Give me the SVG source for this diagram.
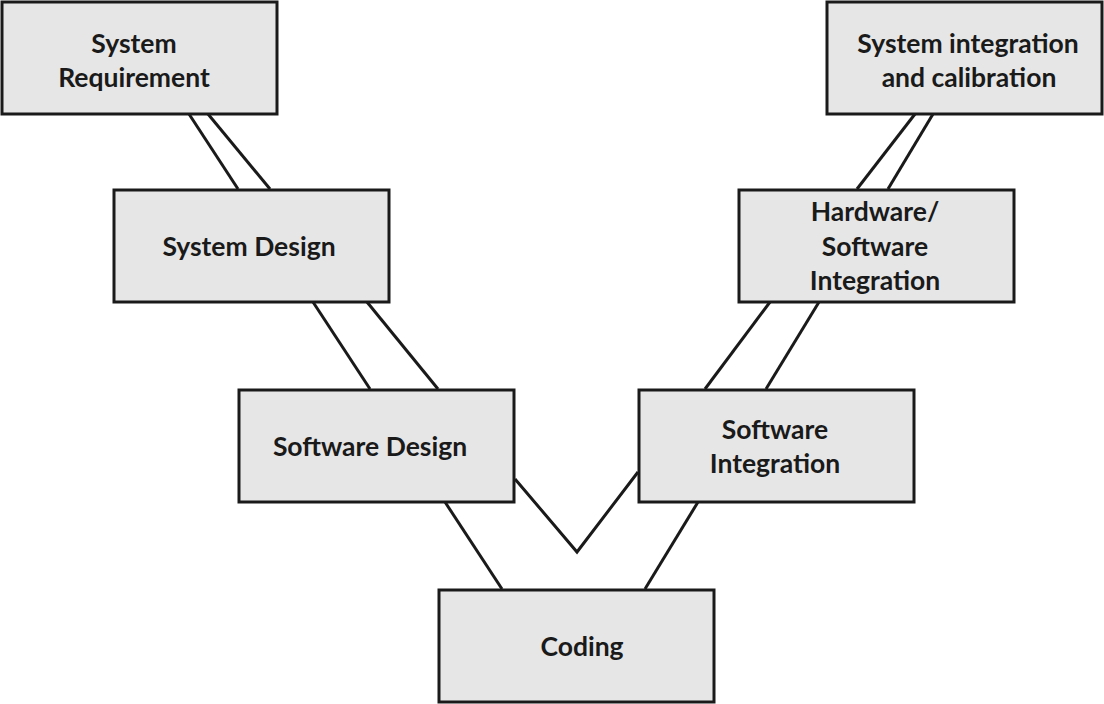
<svg xmlns="http://www.w3.org/2000/svg" width="1104" height="704" viewBox="0 0 1104 704">
<style>
.box{fill:#e6e6e6;stroke:#1a1a1a;stroke-width:3}
.lbl{font-family:Lato,"Open Sans","Liberation Sans",sans-serif;font-weight:bold;font-size:26.5px;fill:#1a1a1a;text-anchor:middle}
.con{stroke:#1a1a1a;stroke-width:3;fill:none}
</style>
<rect width="1104" height="704" fill="#fff"/>
<g id="connectors">
<line class="con" x1="189" y1="114" x2="238" y2="189"/>
<line class="con" x1="208" y1="114" x2="270" y2="189"/>
<line class="con" x1="313" y1="302" x2="370" y2="389"/>
<line class="con" x1="367" y1="302" x2="438" y2="389"/>
<line class="con" x1="445" y1="502" x2="502" y2="589"/>
<polyline class="con" points="515,479 577,552 638,472"/>
<line class="con" x1="698" y1="502" x2="645" y2="589"/>
<line class="con" x1="705" y1="389" x2="770" y2="302"/>
<line class="con" x1="766" y1="389" x2="819" y2="302"/>
<line class="con" x1="857" y1="189" x2="915" y2="114"/>
<line class="con" x1="888" y1="189" x2="933" y2="114"/>
</g>
<g id="sysreq">
<rect class="box" x="2" y="2" width="275" height="112"/>
<text class="lbl" x="134" y="53">System</text>
<text class="lbl" x="134" y="87">Requirement</text>
</g>
<g id="sysdesign">
<rect class="box" x="114" y="190" width="275" height="112"/>
<text class="lbl" x="249" y="256">System Design</text>
</g>
<g id="swdesign">
<rect class="box" x="239" y="390" width="275" height="112"/>
<text class="lbl" x="370" y="456">Software Design</text>
</g>
<g id="coding">
<rect class="box" x="439" y="590" width="275" height="112"/>
<text class="lbl" x="582" y="656">Coding</text>
</g>
<g id="swint">
<rect class="box" x="639" y="390" width="275" height="112"/>
<text class="lbl" x="775" y="439">Software</text>
<text class="lbl" x="775" y="473">Integration</text>
</g>
<g id="hwsw">
<rect class="box" x="739" y="190" width="275" height="112"/>
<text class="lbl" x="875" y="221">Hardware/</text>
<text class="lbl" x="875" y="256">Software</text>
<text class="lbl" x="875" y="290">Integration</text>
</g>
<g id="sysintcal">
<rect class="box" x="827" y="2" width="275" height="112"/>
<text class="lbl" x="968" y="53">System integration</text>
<text class="lbl" x="969" y="87">and calibration</text>
</g>
</svg>
